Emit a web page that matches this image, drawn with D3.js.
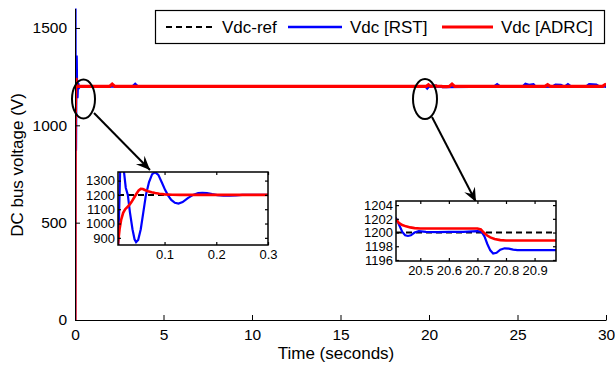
<!DOCTYPE html>
<html>
<head>
<meta charset="utf-8">
<script src="https://cdn.jsdelivr.net/npm/d3@7"></script>
<style>
  body { margin: 0; background: #fff; }
  svg { display: block; font-family: "Liberation Sans", Arial, sans-serif; }
</style>
</head>
<body>
<svg id="chart" width="615" height="369"></svg>
<script>
// series as [time (s), voltage (V)]
const refValue = 1200;

// start-up transient (0 .. 0.3 s)
const rstStart = [[0, 0], [0.006, 500], [0.011, 900], [0.014, 1350], [0.017, 1650], [0.021, 1380],
  [0.025, 1250], [0.029, 1200], [0.033, 1080], [0.038, 960], [0.042, 890], [0.045, 870], [0.049, 885],
  [0.054, 960], [0.059, 1080], [0.064, 1200], [0.07, 1290], [0.076, 1345], [0.082, 1358], [0.088, 1340],
  [0.095, 1285], [0.101, 1235], [0.107, 1195], [0.113, 1165], [0.12, 1145], [0.127, 1140], [0.135, 1150],
  [0.145, 1178], [0.155, 1200], [0.165, 1212], [0.173, 1215], [0.182, 1212], [0.192, 1205], [0.202, 1199],
  [0.214, 1195], [0.226, 1194], [0.238, 1196], [0.25, 1200], [0.3, 1200]];
const adrcStart = [[0, 0], [0.005, 600], [0.01, 860], [0.013, 960], [0.016, 1025], [0.02, 1075],
  [0.024, 1100], [0.028, 1115], [0.032, 1130], [0.036, 1150], [0.041, 1180], [0.046, 1210], [0.05, 1232],
  [0.054, 1242], [0.058, 1241], [0.062, 1234], [0.068, 1226], [0.075, 1219], [0.082, 1213], [0.09, 1208],
  [0.1, 1204], [0.115, 1201], [0.13, 1200], [0.3, 1200]];

// load step around 20.7 s
const rstStep = [[20.4, 1202.4], [20.415, 1202.1], [20.425, 1201.2], [20.437, 1200.1], [20.447, 1199.6],
  [20.457, 1199.5], [20.467, 1199.6], [20.48, 1200.0], [20.495, 1200.2], [20.52, 1200.1], [20.56, 1200.05],
  [20.6, 1200.1], [20.65, 1200.1], [20.7, 1200.2], [20.715, 1200.1], [20.725, 1199.4], [20.735, 1198.3],
  [20.745, 1197.4], [20.755, 1196.95], [20.767, 1197.05], [20.78, 1197.5], [20.795, 1197.7],
  [20.81, 1197.65], [20.825, 1197.5], [20.84, 1197.45], [20.98, 1197.45]];
const adrcStep = [[20.4, 1202.2], [20.415, 1201.9], [20.425, 1201.4], [20.437, 1201.1], [20.45, 1200.9],
  [20.465, 1200.75], [20.48, 1200.65], [20.5, 1200.6], [20.6, 1200.6], [20.7, 1200.6], [20.712, 1200.45],
  [20.722, 1200.0], [20.733, 1199.6], [20.745, 1199.3], [20.76, 1199.05], [20.78, 1198.9], [20.8, 1198.85],
  [20.98, 1198.85]];

// small disturbances elsewhere in the 30 s run
const rstEvents = [[3.25, 1200], [3.4, 1212], [3.55, 1200], [19.8, 1200], [19.9, 1190], [20.0, 1200],
  [23.7, 1200], [23.85, 1210], [24.0, 1200], [25.3, 1200], [25.45, 1212], [25.65, 1207], [25.9, 1210],
  [26.0, 1200], [27.0, 1200], [27.15, 1208], [27.45, 1207], [27.6, 1200], [27.7, 1200], [27.85, 1210],
  [28.0, 1200], [28.9, 1200], [29.05, 1210], [29.45, 1208], [29.6, 1200], [30, 1200]];
const adrcEvents = [[1.95, 1200], [2.1, 1212], [2.25, 1200], [19.85, 1200], [19.97, 1208], [20.08, 1200],
  [21.15, 1200], [21.3, 1212], [21.45, 1200], [26.55, 1200], [26.7, 1209], [26.85, 1200], [29.8, 1200],
  [29.95, 1209], [30, 1206]];

const mainXTicks = [0, 5, 10, 15, 20, 25, 30];
const mainYTicks = [0, 500, 1000, 1500];
const zoom1XTicks = [0.1, 0.2, 0.3];
const zoom1YTicks = [900, 1000, 1100, 1200, 1300];
const zoom2XTicks = [20.5, 20.6, 20.7, 20.8, 20.9];
const zoom2YTicks = [1196, 1198, 1200, 1202, 1204];
const legendNames = ["Vdc-ref", "Vdc [RST]", "Vdc [ADRC]"];

const blue = "#0000ff", red = "#ff0000";
const byTime = (a, b) => a[0] - b[0];
const rstMain = rstStart.concat(rstEvents.filter(d => d[0] < 20.4), rstStep, rstEvents.filter(d => d[0] > 20.98)).sort(byTime);
const adrcMain = adrcStart.concat(adrcEvents.filter(d => d[0] < 20.4), adrcStep, adrcEvents.filter(d => d[0] > 20.98)).sort(byTime);

const svg = d3.select("#chart");

// ---- main axes
const x = d3.scaleLinear().domain([0, 30]).range([75, 606]);
const y = d3.scaleLinear().domain([0, 1600]).range([320, 8.5]);

svg.append("clipPath").attr("id", "clipMain")
  .append("rect").attr("x", 75).attr("y", 8.5).attr("width", 531).attr("height", 311.5);

const mainLine = d3.line().x(d => x(d[0])).y(d => y(d[1]));
const gMain = svg.append("g").attr("clip-path", "url(#clipMain)");
gMain.append("line")
  .attr("x1", x(0)).attr("x2", x(30)).attr("y1", y(refValue)).attr("y2", y(refValue))
  .attr("stroke", "#000").attr("stroke-width", 2).attr("stroke-dasharray", "6,4");
gMain.append("path").datum(rstMain).attr("d", mainLine)
  .attr("fill", "none").attr("stroke", blue).attr("stroke-width", 2.6);
gMain.append("path").datum(adrcMain).attr("d", mainLine)
  .attr("fill", "none").attr("stroke", red).attr("stroke-width", 3.2);

const xAxis = svg.append("g").attr("transform", "translate(0,320)")
  .call(d3.axisBottom(x).tickValues(mainXTicks).tickFormat(d3.format("d")).tickSizeInner(-5).tickSizeOuter(0).tickPadding(9));
const yAxis = svg.append("g").attr("transform", "translate(75,0)")
  .call(d3.axisLeft(y).tickValues(mainYTicks).tickFormat(d3.format("d")).tickSizeInner(-5).tickSizeOuter(0).tickPadding(8));
[xAxis, yAxis].forEach(a => {
  a.select(".domain").attr("stroke", "#000");
  a.selectAll(".tick line").attr("stroke", "#000");
  a.selectAll(".tick text").attr("font-size", 15.5).attr("fill", "#000").attr("font-family", "Liberation Sans, Arial, sans-serif");
});

svg.append("text").attr("x", 336).attr("y", 359).attr("text-anchor", "middle")
  .attr("font-size", 17).text("Time (seconds)");
svg.append("text").attr("transform", "translate(23,165) rotate(-90)").attr("text-anchor", "middle")
  .attr("font-size", 17).text("DC bus voltage (V)");

// ---- legend
const leg = svg.append("g");
leg.append("rect").attr("x", 155.5).attr("y", 10.5).attr("width", 449).attr("height", 33)
  .attr("fill", "#fff").attr("stroke", "#000").attr("stroke-width", 1.2);
const legItems = [
  { x1: 166, x2: 214, tx: 222, color: "#000", dash: "6,4", w: 2 },
  { x1: 288, x2: 342, tx: 350, color: blue, dash: null, w: 2.6 },
  { x1: 442, x2: 493, tx: 501, color: red, dash: null, w: 3 }
];
legItems.forEach((it, i) => {
  leg.append("line").attr("x1", it.x1).attr("x2", it.x2).attr("y1", 27).attr("y2", 27)
    .attr("stroke", it.color).attr("stroke-width", it.w).attr("stroke-dasharray", it.dash);
  leg.append("text").attr("x", it.tx).attr("y", 33).attr("font-size", 17).text(legendNames[i]);
});

// ---- callout ellipses + arrows
function arrow(x1, y1, x2, y2) {
  svg.append("line").attr("x1", x1).attr("y1", y1).attr("x2", x2).attr("y2", y2)
    .attr("stroke", "#000").attr("stroke-width", 2);
  const ang = Math.atan2(y2 - y1, x2 - x1);
  const L = 14, W = 6, N = 9;
  const ux = Math.cos(ang), uy = Math.sin(ang);
  const pts = [
    [x2, y2],
    [x2 - L * ux - W * uy, y2 - L * uy + W * ux],
    [x2 - N * ux, y2 - N * uy],
    [x2 - L * ux + W * uy, y2 - L * uy - W * ux]
  ];
  svg.append("polygon").attr("points", pts.map(p => p.join(",")).join(" ")).attr("fill", "#000");
}
svg.append("ellipse").attr("cx", 83.5).attr("cy", 99).attr("rx", 11.5).attr("ry", 19.5)
  .attr("fill", "none").attr("stroke", "#000").attr("stroke-width", 2);
svg.append("ellipse").attr("cx", 425).attr("cy", 99).attr("rx", 12).attr("ry", 20)
  .attr("fill", "none").attr("stroke", "#000").attr("stroke-width", 2);
arrow(94, 113, 150, 170);
arrow(432, 117, 476, 202);

// ---- inset plots
function inset(id, xDom, yDom, box, rst, adrc, xt, yt, xFmt) {
  const [L, T, R, B] = box;
  const sx = d3.scaleLinear().domain(xDom).range([L, R]);
  const sy = d3.scaleLinear().domain(yDom).range([B, T]);
  const g = svg.append("g");
  g.append("rect").attr("x", L).attr("y", T).attr("width", R - L).attr("height", B - T).attr("fill", "#fff");
  g.append("clipPath").attr("id", id).append("rect")
    .attr("x", L).attr("y", T).attr("width", R - L).attr("height", B - T);
  const ln = d3.line().x(d => sx(d[0])).y(d => sy(d[1]));
  const gc = g.append("g").attr("clip-path", `url(#${id})`);
  gc.append("line").attr("x1", L).attr("x2", R).attr("y1", sy(refValue)).attr("y2", sy(refValue))
    .attr("stroke", "#000").attr("stroke-width", 2).attr("stroke-dasharray", "6,4");
  gc.append("path").datum(rst).attr("d", ln).attr("fill", "none").attr("stroke", blue).attr("stroke-width", 2.2);
  gc.append("path").datum(adrc).attr("d", ln).attr("fill", "none").attr("stroke", red).attr("stroke-width", 2.6);

  const style = a => {
    a.select(".domain").remove();
    a.selectAll(".tick line").attr("stroke", "#000").attr("stroke-width", 1.2);
    a.selectAll(".tick text").attr("font-size", 13).attr("fill", "#000").attr("font-family", "Liberation Sans, Arial, sans-serif");
  };
  g.append("g").attr("transform", `translate(0,${B})`)
    .call(d3.axisBottom(sx).tickValues(xt).tickFormat(xFmt).tickSizeInner(-3).tickSizeOuter(0).tickPadding(5)).call(style);
  g.append("g").attr("transform", `translate(0,${T})`)
    .call(d3.axisTop(sx).tickValues(xt).tickFormat("").tickSizeInner(-3).tickSizeOuter(0)).call(style);
  g.append("g").attr("transform", `translate(${L},0)`)
    .call(d3.axisLeft(sy).tickValues(yt).tickFormat(d3.format("d")).tickSizeInner(-3).tickSizeOuter(0).tickPadding(3)).call(style);
  g.append("g").attr("transform", `translate(${R},0)`)
    .call(d3.axisRight(sy).tickValues(yt).tickFormat("").tickSizeInner(-3).tickSizeOuter(0)).call(style);
  g.append("rect").attr("x", L).attr("y", T).attr("width", R - L).attr("height", B - T)
    .attr("fill", "none").attr("stroke", "#000").attr("stroke-width", 1.5);
}

inset("clipZ1", [0.01, 0.3], [850, 1360], [118, 172, 268, 245], rstStart, adrcStart,
  zoom1XTicks, zoom1YTicks, d3.format(".1f"));
inset("clipZ2", [20.415, 20.975], [1195.85, 1204.6], [396, 201, 556, 261], rstStep, adrcStep,
  zoom2XTicks, zoom2YTicks, d3.format(".1f"));
</script>
</body>
</html>
